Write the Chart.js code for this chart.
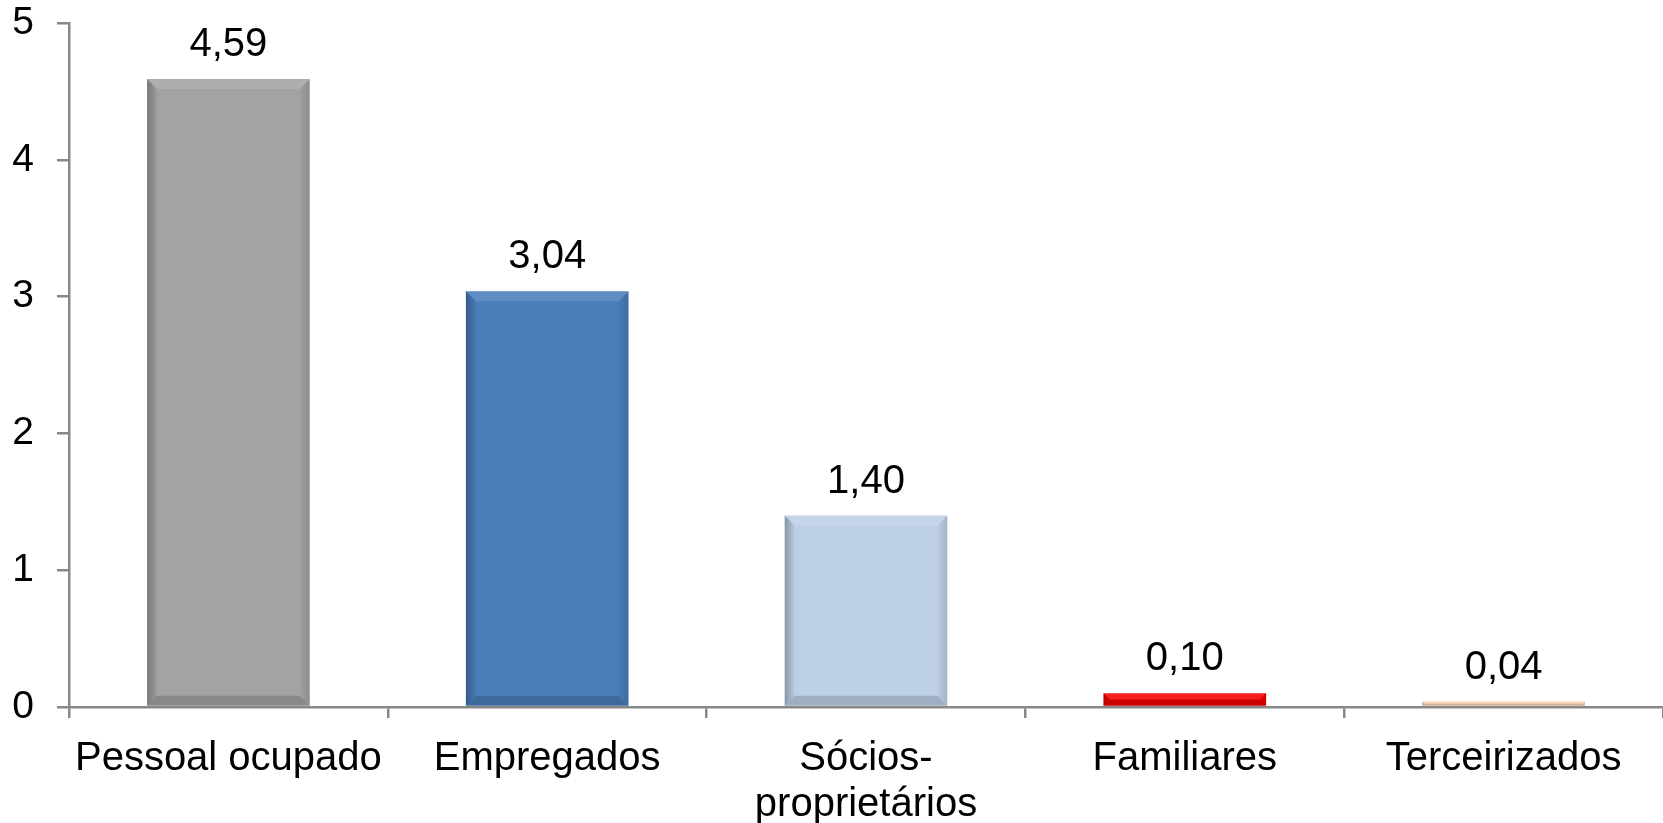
<!DOCTYPE html>
<html>
<head>
<meta charset="utf-8">
<script src="https://cdn.jsdelivr.net/npm/chart.js@4.4.1/dist/chart.umd.min.js"></script>
<style>
  html, body { margin: 0; padding: 0; background: #fff; }
  #wrap { width: 1663px; height: 823px; }
</style>
</head>
<body>
<div id="wrap"><canvas id="pessoalChart" width="1663" height="823"></canvas></div>
<script>
// Chart data
const categories = ['Pessoal ocupado', 'Empregados', ['Sócios-', 'proprietários'], 'Familiares', 'Terceirizados'];
const values = [4.59, 3.04, 1.40, 0.10, 0.04];
const barColors = ['#A3A3A3', '#4A7EBB', '#BED0E8', '#F20000', '#F8D2B2'];
const yTicks = [0, 1, 2, 3, 4, 5];

const axisGray = '#878787';
const fontFamily = '"Liberation Sans", Arial, sans-serif';

// Office-style bevel drawn over each bar
const bevelPlugin = {
    id: 'bevel',
    afterDatasetsDraw(chart) {
        const ctx = chart.ctx;
        chart.getDatasetMeta(0).data.forEach((bar) => {
            const { x, y, base, width } = bar.getProps(['x', 'y', 'base', 'width'], true);
            const l = x - width / 2, r = x + width / 2, t = y, btm = base;
            const b = Math.min(10, (btm - t) / 2);
            ctx.save();
            // top
            ctx.fillStyle = 'rgba(255,255,255,0.12)';
            ctx.beginPath();
            ctx.moveTo(l, t); ctx.lineTo(r, t); ctx.lineTo(r - b, t + b); ctx.lineTo(l + b, t + b);
            ctx.closePath(); ctx.fill();
            // left
            let g = ctx.createLinearGradient(l, 0, l + b, 0);
            g.addColorStop(0, 'rgba(0,0,0,0.28)');
            g.addColorStop(1, 'rgba(0,0,0,0.03)');
            ctx.fillStyle = g;
            ctx.beginPath();
            ctx.moveTo(l, t); ctx.lineTo(l + b, t + b); ctx.lineTo(l + b, btm - b); ctx.lineTo(l, btm);
            ctx.closePath(); ctx.fill();
            // right
            g = ctx.createLinearGradient(r, 0, r - b, 0);
            g.addColorStop(0, 'rgba(0,0,0,0.14)');
            g.addColorStop(1, 'rgba(0,0,0,0.02)');
            ctx.fillStyle = g;
            ctx.beginPath();
            ctx.moveTo(r, t); ctx.lineTo(r - b, t + b); ctx.lineTo(r - b, btm - b); ctx.lineTo(r, btm);
            ctx.closePath(); ctx.fill();
            // bottom
            ctx.fillStyle = 'rgba(0,0,0,0.16)';
            ctx.beginPath();
            ctx.moveTo(l, btm); ctx.lineTo(l + b, btm - b); ctx.lineTo(r - b, btm - b); ctx.lineTo(r, btm);
            ctx.closePath(); ctx.fill();
            ctx.restore();
        });
    }
};

// Value labels above bars (pt-BR decimal comma)
const valueLabels = {
    id: 'valueLabels',
    afterDraw(chart) {
        const ctx = chart.ctx;
        ctx.save();
        ctx.font = '40px ' + fontFamily;
        ctx.fillStyle = '#000';
        ctx.textAlign = 'center';
        ctx.textBaseline = 'middle';
        chart.getDatasetMeta(0).data.forEach((bar, i) => {
            ctx.fillText(values[i].toFixed(2).replace('.', ','), bar.x, bar.y - 34);
        });
        ctx.restore();
    }
};

new Chart(document.getElementById('pessoalChart'), {
    type: 'bar',
    data: {
        labels: categories,
        datasets: [{
            data: values,
            backgroundColor: barColors,
            borderWidth: 0,
            categoryPercentage: 1,
            barPercentage: 0.51
        }]
    },
    options: {
        responsive: false,
        animation: false,
        layout: { padding: { top: 23, right: 0, bottom: 0, left: 0 } },
        plugins: {
            legend: { display: false },
            tooltip: { enabled: false }
        },
        scales: {
            x: {
                afterFit(scale) { scale.height = 116; },
                grid: {
                    offset: true,
                    drawOnChartArea: false,
                    tickLength: 11,
                    color: axisGray,
                    lineWidth: 2.5
                },
                border: { color: axisGray, width: 2.5 },
                ticks: {
                    color: '#000',
                    padding: 18,
                    maxRotation: 0,
                    autoSkip: false,
                    font: { family: fontFamily, size: 40, lineHeight: 1.15 }
                }
            },
            y: {
                min: 0,
                max: 5,
                afterFit(scale) {
                    scale.width = 69;
                    scale.paddingTop = 0;
                    scale.paddingBottom = 0;
                },
                afterBuildTicks(scale) { scale.ticks = yTicks.map(v => ({ value: v })); },
                grid: {
                    drawOnChartArea: false,
                    tickLength: 12,
                    color: axisGray,
                    lineWidth: 2.5
                },
                border: { color: axisGray, width: 2.5 },
                ticks: {
                    color: '#000',
                    padding: 23,
                    font: { family: fontFamily, size: 39 }
                }
            }
        }
    },
    plugins: [bevelPlugin, valueLabels]
});
</script>
</body>
</html>
